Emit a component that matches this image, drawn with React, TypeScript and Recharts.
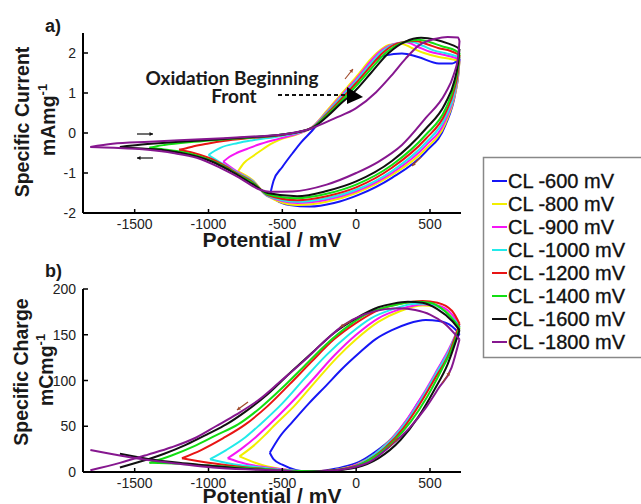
import React from 'react';
import { Line, LineChart, XAxis, YAxis } from 'recharts';

type P = [number, number];

const seriesNames = ['CL -600 mV', 'CL -800 mV', 'CL -900 mV', 'CL -1000 mV', 'CL -1200 mV', 'CL -1400 mV', 'CL -1600 mV', 'CL -1800 mV'];
const seriesColors = ['#1616f5', '#f2ee00', '#f516f5', '#22eaea', '#e81414', '#12de12', '#111111', '#86178f'];

const potentialTicks = [-1500, -1000, -500, 0, 500];
const currentTicks = [-2, -1, 0, 1, 2];
const chargeTicks = [0, 50, 100, 150, 200];

// a) specific current (mA/mg) vs potential (mV), positive-going scan
const a600Fwd: P[] = [[-580, -1.5], [-560, -1.2], [-500, -0.85], [-430, -0.5], [-370, -0.22], [-300, 0.05], [-200, 0.5], [-100, 0.95], [0, 1.37], [100, 1.75], [200, 1.94], [310, 1.99], [420, 1.9], [560, 1.74], [650, 1.74], [700, 1.85]];
const a800Fwd: P[] = [[-800, -0.96], [-760, -0.75], [-700, -0.58], [-650, -0.45], [-580, -0.28], [-520, -0.17], [-400, -0.03], [-300, 0.14], [-200, 0.55], [-100, 0.98], [0, 1.4], [100, 1.85], [140, 2.0], [220, 2.2], [300, 2.24], [380, 2.12], [460, 2.0], [560, 1.9], [640, 1.85], [700, 1.8]];
const a900Fwd: P[] = [[-900, -0.72], [-860, -0.6], [-810, -0.5], [-740, -0.4], [-670, -0.3], [-520, -0.14], [-400, -0.02], [-300, 0.14], [-200, 0.52], [-100, 0.94], [0, 1.35], [100, 1.8], [150, 2.0], [250, 2.22], [340, 2.27], [420, 2.15], [500, 2.03], [600, 1.95], [700, 1.85]];
const a1000Fwd: P[] = [[-1000, -0.55], [-960, -0.45], [-920, -0.37], [-800, -0.25], [-700, -0.18], [-500, -0.07], [-300, 0.13], [-200, 0.5], [-100, 0.9], [0, 1.3], [100, 1.74], [165, 2.0], [260, 2.22], [370, 2.28], [450, 2.18], [530, 2.06], [600, 2.0], [700, 1.9]];
const a1200Fwd: P[] = [[-1200, -0.42], [-1150, -0.38], [-1100, -0.33], [-1000, -0.26], [-900, -0.2], [-700, -0.12], [-500, -0.05], [-300, 0.13], [-200, 0.47], [-100, 0.85], [0, 1.25], [100, 1.68], [180, 2.0], [280, 2.24], [400, 2.3], [480, 2.22], [560, 2.12], [640, 2.05], [700, 1.95]];
const a1400Fwd: P[] = [[-1400, -0.37], [-1350, -0.33], [-1300, -0.3], [-1100, -0.22], [-900, -0.16], [-700, -0.11], [-500, -0.04], [-300, 0.13], [-200, 0.44], [-100, 0.8], [0, 1.18], [100, 1.6], [200, 2.0], [300, 2.24], [420, 2.33], [500, 2.27], [580, 2.17], [650, 2.1], [700, 2.0]];
const a1600Fwd: P[] = [[-1600, -0.35], [-1450, -0.29], [-1200, -0.22], [-900, -0.15], [-700, -0.1], [-500, -0.04], [-300, 0.12], [-200, 0.4], [-100, 0.75], [0, 1.08], [100, 1.5], [220, 2.0], [330, 2.28], [440, 2.38], [540, 2.33], [620, 2.24], [680, 2.15], [700, 2.1]];
const a1800Fwd: P[] = [[-1800, -0.35], [-1650, -0.27], [-1400, -0.22], [-1200, -0.18], [-900, -0.13], [-700, -0.09], [-500, -0.04], [-300, 0.12], [-150, 0.36], [0, 0.62], [135, 1.02], [240, 1.44], [335, 1.86], [425, 2.19], [540, 2.36], [620, 2.4], [690, 2.39], [700, 2.3]];

// a) negative-going scan
const a600Rev: P[] = [[-580, -1.5], [-540, -1.68], [-450, -1.8], [-316, -1.84], [-150, -1.75], [20, -1.54], [242, -1.12], [471, -0.47], [605, 0.2], [673, 1.02], [693, 1.5], [700, 1.85]];
const a800Rev: P[] = [[-800, -0.96], [-700, -1.18], [-600, -1.58], [-400, -1.8], [-200, -1.72], [0, -1.5], [242, -1.05], [470, -0.4], [605, 0.25], [665, 0.9], [690, 1.4], [700, 1.8]];
const a900Rev: P[] = [[-900, -0.72], [-800, -0.98], [-700, -1.2], [-600, -1.58], [-400, -1.75], [-200, -1.67], [0, -1.46], [242, -1.0], [470, -0.32], [605, 0.32], [665, 0.95], [690, 1.45], [700, 1.85]];
const a1000Rev: P[] = [[-1000, -0.55], [-900, -0.78], [-800, -1.0], [-700, -1.21], [-600, -1.57], [-400, -1.72], [-200, -1.63], [0, -1.42], [242, -0.95], [470, -0.25], [605, 0.4], [665, 1.0], [690, 1.5], [700, 1.9]];
const a1200Rev: P[] = [[-1200, -0.42], [-1100, -0.5], [-1000, -0.62], [-900, -0.8], [-800, -1.02], [-700, -1.23], [-600, -1.55], [-400, -1.68], [-200, -1.58], [0, -1.36], [242, -0.87], [470, -0.15], [605, 0.5], [665, 1.1], [690, 1.55], [700, 1.95]];
const a1400Rev: P[] = [[-1400, -0.37], [-1300, -0.41], [-1200, -0.46], [-1100, -0.54], [-1000, -0.66], [-900, -0.83], [-800, -1.04], [-700, -1.25], [-600, -1.53], [-400, -1.63], [-200, -1.52], [0, -1.29], [242, -0.8], [470, -0.05], [605, 0.6], [665, 1.2], [690, 1.65], [700, 2.0]];
const a1600Rev: P[] = [[-1600, -0.35], [-1450, -0.39], [-1300, -0.43], [-1200, -0.49], [-1100, -0.57], [-1000, -0.68], [-900, -0.85], [-800, -1.06], [-700, -1.28], [-600, -1.5], [-400, -1.58], [-200, -1.45], [0, -1.21], [242, -0.7], [470, 0.1], [605, 0.75], [665, 1.3], [690, 1.75], [700, 2.1]];
const a1800Rev: P[] = [[-1800, -0.35], [-1640, -0.37], [-1410, -0.42], [-1240, -0.5], [-1080, -0.62], [-920, -0.87], [-790, -1.12], [-650, -1.42], [-585, -1.47], [-430, -1.46], [-200, -1.29], [0, -1.0], [150, -0.72], [310, -0.3], [470, 0.37], [605, 1.0], [660, 1.45], [690, 1.9], [700, 2.3]];

// b) specific charge (mC/mg), lower branch
const b600Low: P[] = [[-585, 21], [-560, 14], [-500, 8], [-405, 2], [-300, 0], [-200, 2], [-100, 5], [20, 11], [130, 22], [242, 37], [340, 56], [424, 77], [500, 95], [558, 113], [630, 132], [700, 151]];
const b800Low: P[] = [[-790, 17], [-700, 11], [-600, 6], [-500, 3], [-400, 1], [-300, 0], [-150, 2], [0, 8], [130, 20], [250, 38], [350, 58], [450, 82], [550, 110], [630, 134], [700, 158]];
const b900Low: P[] = [[-870, 15], [-750, 9], [-600, 5], [-450, 2], [-350, 0], [-200, 1], [-50, 5], [100, 16], [250, 38], [350, 59], [450, 84], [550, 112], [630, 135], [700, 160]];
const b1000Low: P[] = [[-990, 14], [-850, 9], [-700, 6], [-550, 3], [-400, 1], [-300, 0], [-150, 2], [0, 7], [130, 20], [250, 37], [350, 57], [450, 82], [550, 110], [630, 133], [700, 160]];
const b1200Low: P[] = [[-1180, 15], [-1000, 10], [-800, 6], [-600, 3], [-400, 1], [-250, 1], [-100, 3], [50, 10], [200, 27], [320, 48], [430, 74], [540, 104], [630, 130], [700, 162]];
const b1400Low: P[] = [[-1400, 10], [-1200, 9], [-1000, 7], [-800, 5], [-600, 3], [-400, 1], [-200, 1], [-50, 4], [100, 14], [250, 33], [370, 55], [480, 82], [580, 112], [650, 135], [700, 158]];
const b1600Low: P[] = [[-1600, 20], [-1400, 14], [-1200, 10], [-1000, 7], [-800, 4], [-600, 2], [-400, 0], [-200, 1], [0, 5], [150, 15], [300, 35], [420, 60], [530, 90], [620, 118], [700, 155]];
const b1800Low: P[] = [[-1800, 24], [-1600, 18], [-1410, 13], [-1200, 9], [-970, 5], [-750, 3], [-520, 2], [-370, 0], [-200, 1], [-50, 4], [100, 12], [242, 30], [360, 48], [471, 70], [560, 92], [646, 114], [700, 145]];

// b) upper branch
const b600Up: P[] = [[-585, 21], [-520, 38], [-430, 55], [-320, 75], [-200, 95], [-100, 112], [20, 130], [130, 145], [242, 155], [350, 162], [471, 166], [560, 165], [650, 159], [700, 151]];
const b800Up: P[] = [[-790, 17], [-700, 28], [-620, 40], [-560, 50], [-420, 72], [-280, 98], [-130, 125], [0, 145], [150, 164], [300, 176], [450, 182], [550, 181], [650, 170], [700, 158]];
const b900Up: P[] = [[-870, 15], [-780, 25], [-680, 38], [-600, 50], [-450, 74], [-300, 100], [-150, 127], [0, 150], [150, 168], [300, 178], [450, 183], [550, 182], [650, 172], [700, 160]];
const b1000Up: P[] = [[-990, 14], [-880, 24], [-750, 38], [-650, 52], [-500, 75], [-350, 102], [-200, 128], [-50, 150], [100, 168], [250, 178], [400, 184], [500, 184], [600, 176], [700, 160]];
const b1200Up: P[] = [[-1180, 15], [-1050, 24], [-900, 37], [-750, 52], [-600, 72], [-450, 96], [-300, 121], [-150, 145], [0, 163], [150, 177], [300, 184], [450, 187], [550, 185], [650, 176], [700, 162]];
const b1400Up: P[] = [[-1400, 10], [-1250, 18], [-1100, 28], [-950, 40], [-800, 52], [-650, 70], [-500, 92], [-350, 116], [-200, 140], [-50, 160], [100, 175], [250, 182], [400, 186], [500, 185], [600, 176], [700, 158]];
const b1600Up: P[] = [[-1600, 5], [-1450, 12], [-1300, 20], [-1150, 30], [-1000, 42], [-880, 52], [-750, 66], [-600, 85], [-450, 108], [-300, 130], [-150, 152], [0, 168], [150, 180], [250, 184], [350, 186], [450, 185], [550, 178], [650, 165], [700, 155]];
const b1800Up: P[] = [[-1800, 2], [-1600, 10], [-1410, 19], [-1250, 27], [-1080, 38], [-950, 50], [-810, 63], [-650, 80], [-520, 98], [-350, 122], [-200, 145], [-90, 160], [50, 172], [200, 178], [300, 179], [400, 177], [500, 172], [600, 162], [700, 145]];

const panelA = [[a600Fwd, a600Rev], [a800Fwd, a800Rev], [a900Fwd, a900Rev], [a1000Fwd, a1000Rev], [a1200Fwd, a1200Rev], [a1400Fwd, a1400Rev], [a1600Fwd, a1600Rev], [a1800Fwd, a1800Rev]];
const panelB = [[b600Low, b600Up], [b800Low, b800Up], [b900Low, b900Up], [b1000Low, b1000Up], [b1200Low, b1200Up], [b1400Low, b1400Up], [b1600Low, b1600Up], [b1800Low, b1800Up]];

const FONT = 'Arial, "Liberation Sans", sans-serif';
const AXIS_X = 83;
const TICK_GAP = 6;

const rows = (pts: P[]) => pts.map(([x, y]) => ({ x, y }));

const XTick = (props: any) => {
  const { x, y, payload } = props;
  return (
    <g>
      <line x1={x} x2={x} y1={y - TICK_GAP + 1} y2={y - TICK_GAP - 4} stroke="#000" strokeWidth={1.5} />
      <text x={x} y={y} dy="0.72em" textAnchor="middle" fontFamily={FONT} fontSize={14} fill="#222">
        {payload.value}
      </text>
    </g>
  );
};

const YTick = (props: any) => {
  const { x, y, payload } = props;
  return (
    <g>
      <line x1={AXIS_X} x2={AXIS_X + 5} y1={y} y2={y} stroke="#000" strokeWidth={1.5} />
      <text x={x - 1} y={y} dy="0.36em" textAnchor="end" fontFamily={FONT} fontSize={14} fill="#222">
        {payload.value}
      </text>
    </g>
  );
};

function LoopChart({ branches, yDomain, yTicks, top, height, marginTop, plotHeight }: any) {
  return (
    <div style={{ position: 'absolute', left: 0, top }}>
      <LineChart width={470} height={height} margin={{ top: marginTop, right: 9, bottom: 0, left: 0 }}>
        <XAxis
          type="number"
          dataKey="x"
          domain={[-1850, 710]}
          ticks={potentialTicks}
          allowDataOverflow
          height={height - marginTop - plotHeight}
          axisLine={{ stroke: '#000', strokeWidth: 2 }}
          tickLine={false}
          tickSize={0}
          tickMargin={TICK_GAP}
          tick={<XTick />}
        />
        <YAxis
          type="number"
          dataKey="y"
          domain={yDomain}
          ticks={yTicks}
          allowDataOverflow
          width={AXIS_X}
          axisLine={{ stroke: '#000', strokeWidth: 2 }}
          tickLine={false}
          tickSize={0}
          tickMargin={TICK_GAP}
          tick={<YTick />}
        />
        {branches.map((pair: P[][], i: number) =>
          pair.map((pts: P[], j: number) => (
            <Line
              key={`${i}-${j}`}
              data={rows(pts)}
              dataKey="y"
              type="monotone"
              stroke={seriesColors[i]}
              strokeWidth={2}
              dot={false}
              activeDot={false}
              isAnimationActive={false}
            />
          ))
        )}
      </LineChart>
    </div>
  );
}

const Arrow = ({ x1, y1, x2, y2, color }: any) => {
  const a = Math.atan2(y2 - y1, x2 - x1);
  const h = 4;
  const p1 = [x2 - h * Math.cos(a - 0.5), y2 - h * Math.sin(a - 0.5)];
  const p2 = [x2 - h * Math.cos(a + 0.5), y2 - h * Math.sin(a + 0.5)];
  return (
    <g>
      <line x1={x1} y1={y1} x2={x2} y2={y2} stroke={color} strokeWidth={1.2} />
      <polygon points={`${x2},${y2} ${p1[0]},${p1[1]} ${p2[0]},${p2[1]}`} fill={color} />
    </g>
  );
};

export default function App() {
  const bold = { fontFamily: FONT, fontWeight: 700, fill: '#1a1a1a' } as const;
  return (
    <div style={{ position: 'absolute', left: 0, top: 0, width: 641, height: 504, overflow: 'hidden', background: '#fff' }}>
      <LoopChart branches={panelA} yDomain={[-2, 2.5]} yTicks={currentTicks} top={0} height={250} marginTop={33} plotHeight={180} />
      <LoopChart branches={panelB} yDomain={[0, 200]} yTicks={chargeTicks} top={250} height={254} marginTop={39} plotHeight={183} />
      <svg width={641} height={504} style={{ position: 'absolute', left: 0, top: 0, pointerEvents: 'none' }}>
        <text x={45} y={32} fontSize={18} {...bold}>a)</text>
        <text x={45} y={277} fontSize={18} {...bold}>b)</text>

        <text transform="translate(29,122) rotate(-90)" textAnchor="middle" fontSize={19.5} {...bold}>Specific Current</text>
        <text transform="translate(55,120) rotate(-90)" textAnchor="middle" fontSize={19.5} {...bold}>
          mAmg<tspan dy={-8} fontSize={13}>-1</tspan>
        </text>
        <text transform="translate(28,372) rotate(-90)" textAnchor="middle" fontSize={19.5} {...bold}>Specific Charge</text>
        <text transform="translate(53,370) rotate(-90)" textAnchor="middle" fontSize={19.5} {...bold}>
          mCmg<tspan dy={-8} fontSize={13}>-1</tspan>
        </text>

        <text x={272} y={247} textAnchor="middle" fontSize={21} {...bold}>Potential / mV</text>
        <text x={272} y={503} textAnchor="middle" fontSize={21} {...bold}>Potential / mV</text>

        <text x={232} y={85} textAnchor="middle" fontSize={19} fontFamily="Lato, sans-serif" fontWeight={700} fill="#1a1a1a">Oxidation Beginning</text>
        <text x={234} y={103} textAnchor="middle" fontSize={19} fontFamily="Lato, sans-serif" fontWeight={700} fill="#1a1a1a">Front</text>
        <line x1={278} y1={95} x2={346} y2={95} stroke="#111" strokeWidth={2} strokeDasharray="4 3" />
        <polygon points="347,87 347,104 363,97" fill="#000" />

        <Arrow x1={137} y1={134} x2={153} y2={134} color="#111" />
        <Arrow x1={153} y1={158} x2={137} y2={158} color="#111" />
        <Arrow x1={345} y1={79} x2={353} y2={69} color="#a04a2a" />
        <Arrow x1={421} y1={157} x2={412} y2={166} color="#a04a2a" />
        <Arrow x1={351} y1={321} x2={340} y2={327} color="#a04a2a" />
        <Arrow x1={248} y1={402} x2={237} y2={410} color="#a04a2a" />
        <Arrow x1={388} y1={448} x2={398} y2={438} color="#a04a2a" />
        <Arrow x1={442} y1={383} x2={450} y2={372} color="#a04a2a" />

        <rect x={483.5} y={157.5} width={170} height={200} fill="#fff" stroke="#888" strokeWidth={1.5} />
        {seriesNames.map((name, i) => (
          <g key={name}>
            <line x1={492} x2={507} y1={181 + 23 * i} y2={181 + 23 * i} stroke={seriesColors[i]} strokeWidth={2} />
            <text x={508} y={188 + 23 * i} fontFamily={FONT} fontSize={20} fill="#111" stroke="#111" strokeWidth={0.35}>{name}</text>
          </g>
        ))}
      </svg>
    </div>
  );
}
